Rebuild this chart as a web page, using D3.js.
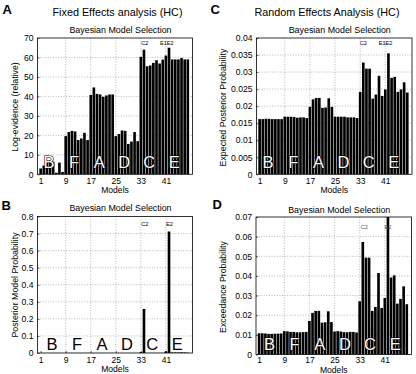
<!DOCTYPE html>
<html><head><meta charset="utf-8">
<script src="https://cdn.jsdelivr.net/npm/d3@7"></script>
<style>
html,body{margin:0;padding:0;background:#fff;}
svg{display:block;}
text{font-family:"Liberation Sans",Arial,Helvetica,sans-serif;}
</style></head>
<body>
<svg id="chart" width="416" height="374"></svg>
<script>
// ---------- data ----------
const models = d3.range(1, 49);
const xTickModels = [1, 9, 17, 25, 33, 41];
const families = ["B", "F", "A", "D", "C", "E"];
const familyStart = [1, 9, 17, 25, 33, 41];

// A: fixed effects log-evidence (relative)
const fixedLogEvidence = [
  3, 4.5, 6, 7, 6.5, 0.8, 6, 1.2,
  19.6, 21.7, 22.3, 22, 17.6, 18.4, 21.3, 17.6,
  40.8, 44.6, 41.3, 41, 39.8, 40.5, 41, 41,
  19.6, 20.7, 22.5, 22.3, 15.6, 16.8, 21.7, 17,
  60.3, 64, 55.5, 55.9, 57.2, 58.6, 56.9, 58.9,
  61, 65, 59, 59, 59, 59.7, 59, 59
];
// B: fixed effects posterior model probability
const posteriorModelProb = [
  0.0003, 0.0003, 0.0003, 0.0003, 0.0003, 0.0003, 0.0003, 0.0003,
  0.0003, 0.0003, 0.0003, 0.0003, 0.0003, 0.0003, 0.0003, 0.0003,
  0.0003, 0.0003, 0.0003, 0.0003, 0.0003, 0.0003, 0.0003, 0.0003,
  0.0003, 0.0003, 0.0003, 0.0003, 0.0003, 0.0003, 0.0003, 0.0003,
  0.005, 0.258, 0.0005, 0.0005, 0.0005, 0.0005, 0.0005, 0.0005,
  0.01, 0.712, 0.003, 0.003, 0.003, 0.004, 0.003, 0.002
];
// C: random effects expected posterior probability
const expectedPosterior = [
  0.0162, 0.0162, 0.0163, 0.0163, 0.0162, 0.0162, 0.0162, 0.0162,
  0.0169, 0.0169, 0.0169, 0.0168, 0.0166, 0.0167, 0.0167, 0.0165,
  0.0198, 0.022, 0.0224, 0.0224, 0.0195, 0.0196, 0.0223, 0.0198,
  0.0169, 0.0169, 0.0169, 0.0169, 0.0167, 0.0167, 0.0167, 0.0165,
  0.0242, 0.0328, 0.031, 0.031, 0.0222, 0.0234, 0.0289, 0.023,
  0.0249, 0.0355, 0.0283, 0.0286, 0.0242, 0.0249, 0.027, 0.024
];
// D: random effects exceedance probability
const exceedanceProb = [
  0.0108, 0.0108, 0.0107, 0.0105, 0.0105, 0.0106, 0.0106, 0.0107,
  0.0119, 0.0118, 0.0115, 0.0115, 0.0113, 0.0113, 0.0114, 0.0115,
  0.0171, 0.0212, 0.0222, 0.0222, 0.0162, 0.0164, 0.022, 0.0165,
  0.0117, 0.0119, 0.0117, 0.0114, 0.0113, 0.0115, 0.0115, 0.0112,
  0.0271, 0.0573, 0.0493, 0.0493, 0.0222, 0.0242, 0.0415, 0.0237,
  0.0288, 0.072, 0.0392, 0.0403, 0.0259, 0.0283, 0.0347, 0.0256
];

const yTicksA = [0, 10, 20, 30, 40, 50, 60, 70];
const yTicksB = [0, 0.1, 0.2, 0.3, 0.4, 0.5, 0.6, 0.7, 0.8];
const yTicksC = [0, 0.005, 0.01, 0.015, 0.02, 0.025, 0.03, 0.035, 0.04];
const yTicksD = [0, 0.01, 0.02, 0.03, 0.04, 0.05, 0.06, 0.07];

const winnerLabelsA = [{m: 34.3, t: "C2"}, {m: 41.3, t: "E1E2"}];
const winnerLabelsB = [{m: 34.3, t: "C2"}, {m: 42.1, t: "E2"}];
const winnerLabelsC = [{m: 34, t: "C2"}, {m: 41.1, t: "E1E2"}];
const winnerLabelsD = [{m: 34.5, t: "C2"}, {m: 42, t: "E2"}];

// ---------- drawing ----------
const svg = d3.select("#chart");
const FONT = '"Liberation Sans",Arial,Helvetica,sans-serif';

function drawPanel(p) {
  const x = d3.scaleLinear().domain([0, 49.5]).range([p.left, p.right]);
  const y = d3.scaleLinear().domain([0, p.yMax]).range([p.bottom, p.top]);
  const g = svg.append("g");
  const clipId = "clip" + p.letter;
  svg.append("clipPath").attr("id", clipId).append("rect")
    .attr("x", p.left).attr("y", p.top)
    .attr("width", p.right - p.left).attr("height", p.bottom - p.top);

  // grid
  g.append("g").selectAll("line").data(xTickModels.slice(1)).join("line")
    .attr("x1", d => x(d)).attr("x2", d => x(d))
    .attr("y1", p.top).attr("y2", p.bottom)
    .attr("stroke", "#9a9a9a").attr("stroke-width", 0.7).attr("stroke-dasharray", "1,1.6");
  g.append("g").selectAll("line").data(p.yTicks.slice(1, -1)).join("line")
    .attr("y1", d => y(d)).attr("y2", d => y(d))
    .attr("x1", p.left).attr("x2", p.right)
    .attr("stroke", "#9a9a9a").attr("stroke-width", 0.7).attr("stroke-dasharray", "1,1.6");

  // bars
  const bw = (x(1) - x(0)) * 0.84;
  g.append("g").attr("clip-path", `url(#${clipId})`)
    .selectAll("rect").data(p.values).join("rect")
    .attr("x", (d, i) => x(models[i]) - bw / 2)
    .attr("width", bw)
    .attr("y", d => y(d))
    .attr("height", d => p.bottom - y(d))
    .attr("fill", "#000");

  // family letters
  g.append("g").selectAll("text").data(families).join("text")
    .attr("x", (d, i) => x(familyStart[i] + p.famOff))
    .attr("y", p.bottom - p.famDy)
    .attr("text-anchor", "middle")
    .attr("font-size", 16.5)
    .attr("fill", p.famColor)
    .attr("stroke", p.famColor === "#fff" ? "#000" : "none")
    .attr("stroke-width", 1.2)
    .attr("paint-order", "stroke")
    .text(d => d);

  // winner labels
  g.append("g").selectAll("text").data(p.winners).join("text")
    .attr("x", d => x(d.m)).attr("y", p.top + p.winDy)
    .attr("text-anchor", "middle").attr("font-size", 5.6)
    .attr("fill", p.winColor)
    .text(d => d.t);

  // axes box
  g.append("rect").attr("x", p.left).attr("y", p.top)
    .attr("width", p.right - p.left).attr("height", p.bottom - p.top)
    .attr("fill", "none").attr("stroke", "#000").attr("stroke-width", 0.8);

  // axes with inward ticks
  const xAxis = d3.axisBottom(x).tickValues(xTickModels).tickSize(-2).tickPadding(4).tickFormat(d3.format("d"));
  const gx = g.append("g").attr("transform", `translate(0,${p.bottom})`).call(xAxis);
  gx.select(".domain").remove();
  gx.selectAll("text").attr("font-size", 8.5).attr("font-family", FONT).attr("fill", "#000")
    .attr("y", p.tickTop).attr("dy", "0.71em");
  gx.selectAll("line").attr("stroke-width", 0.6);

  const yAxis = d3.axisLeft(y).tickValues(p.yTicks).tickSize(-2).tickPadding(4)
    .tickFormat(d => d3.format("~g")(d));
  const gy = g.append("g").attr("transform", `translate(${p.left},0)`).call(yAxis);
  gy.select(".domain").remove();
  gy.selectAll("text").attr("font-size", 8.6).attr("font-family", FONT).attr("fill", "#000");
  gy.selectAll("line").attr("stroke-width", 0.6);

  // axis titles
  g.append("text").attr("x", (p.left + p.right) / 2).attr("y", p.bottom + p.modelsDy)
    .attr("text-anchor", "middle").attr("font-size", 8.6).text("Models");
  g.append("text")
    .attr("transform", `translate(${p.yLabX},${p.yLabY}) rotate(-90)`)
    .attr("text-anchor", "middle").attr("dy", "0.35em")
    .attr("font-size", 8.8).text(p.yLabel);

  // subplot title
  g.append("text").attr("x", (p.left + p.right) / 2 + 5.5).attr("y", p.top - p.subDy)
    .attr("text-anchor", "middle").attr("font-size", 8.9).text("Bayesian Model Selection");

  // panel letter
  g.append("text").attr("x", p.lx).attr("y", p.ly)
    .attr("font-size", 13).attr("font-weight", "bold").text(p.letter);

  if (p.main) {
    g.append("text").attr("x", p.mainX).attr("y", 15.5)
      .attr("text-anchor", "middle").attr("font-size", 10.8).text(p.main);
  }
}

drawPanel({letter: "A", lx: 2.5, ly: 13.5, main: "Fixed Effects analysis (HC)", mainX: 117.5,
  left: 37.5, right: 192.5, top: 38, bottom: 174.3, yMax: 70, yTicks: yTicksA,
  values: fixedLogEvidence, yLabel: "Log-evidence (relative)", yLabX: 15, yLabY: 107,
  famOff: 2.7, famDy: 6, famColor: "#fff", winners: winnerLabelsA, winDy: 7.3, winColor: "#000", subDy: 5.5,
  tickTop: 3.8, modelsDy: 19});

drawPanel({letter: "C", lx: 210.5, ly: 13.5, main: "Random Effects Analysis (HC)", mainX: 327,
  left: 256.5, right: 412, top: 38, bottom: 174.3, yMax: 0.04, yTicks: yTicksC,
  values: expectedPosterior, yLabel: "Expected Posterior Probability", yLabX: 223, yLabY: 107.5,
  famOff: 2.7, famDy: 6, famColor: "#fff", winners: winnerLabelsC, winDy: 7.3, winColor: "#000", subDy: 5.5,
  tickTop: 3.8, modelsDy: 19});

drawPanel({letter: "B", lx: 1.5, ly: 209.5, main: null,
  left: 37.5, right: 192.5, top: 216.5, bottom: 353, yMax: 0.8, yTicks: yTicksB,
  values: posteriorModelProb, yLabel: "Posterior Model Probability", yLabX: 15, yLabY: 285,
  famOff: 3.6, famDy: 2.7, famColor: "#000", winners: winnerLabelsB, winDy: 9.2, winColor: "#000", subDy: 5.2,
  tickTop: 4, modelsDy: 19.3});

drawPanel({letter: "D", lx: 212.5, ly: 209, main: null,
  left: 256, right: 411.5, top: 217, bottom: 354.5, yMax: 0.07, yTicks: yTicksD,
  values: exceedanceProb, yLabel: "Exceedance Probability", yLabX: 223, yLabY: 287,
  famOff: 3.3, famDy: 4.2, famColor: "#fff", winners: winnerLabelsD, winDy: 12, winColor: "#555", subDy: 4,
  tickTop: 2.7, modelsDy: 18});
</script>
</body></html>
